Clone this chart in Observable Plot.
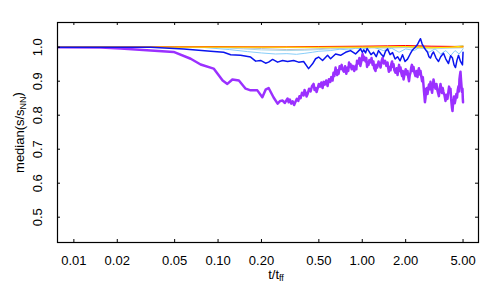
<!DOCTYPE html>
<html><head><meta charset="utf-8">
<script src="https://cdn.jsdelivr.net/npm/d3@7"></script>
<script src="https://cdn.jsdelivr.net/npm/@observablehq/plot@0.6"></script>
<style>body{margin:0;background:#fff} svg{font-family:"Liberation Sans",Arial,sans-serif}</style>
</head><body><div id="chart"></div>
<script>
// tick values
const xTicks = [0.01, 0.02, 0.05, 0.1, 0.2, 0.5, 1, 2, 5];
const yTicks = [0.5, 0.6, 0.7, 0.8, 0.9, 1.0];

// series: [t/t_ff, median(s/s_NN)]
const purple = [[0.0078,1.000],[0.0154,0.999],[0.0211,0.996],[0.0341,0.990],[0.0492,0.986],[0.0646,0.966],[0.0757,0.949],[0.0932,0.937],[0.1076,0.902],[0.116,0.892],[0.1257,0.905],[0.1395,0.902],[0.1553,0.878],[0.1682,0.873],[0.1872,0.873],[0.2028,0.853],[0.2137,0.875],[0.2242,0.880],[0.2428,0.852],[0.2588,0.834],[0.27,0.842],[0.2803,0.843],[0.29,0.836],[0.3036,0.849],[0.309,0.838],[0.315,0.846],[0.322,0.834],[0.3289,0.841],[0.337,0.830],[0.3450,0.840],[0.352,0.848],[0.36,0.842],[0.367,0.856],[0.3736,0.850],[0.382,0.866],[0.3920,0.858],[0.398,0.874],[0.405,0.866],[0.411,0.855],[0.4177,0.862],[0.428,0.878],[0.4382,0.870],[0.448,0.885],[0.4597,0.892],[0.467,0.874],[0.475,0.880],[0.482,0.868],[0.4899,0.878],[0.50,0.892],[0.51,0.884],[0.52,0.896],[0.5307,0.880],[0.54,0.898],[0.55,0.890],[0.562,0.902],[0.5747,0.886],[0.587,0.906],[0.60,0.898],[0.61,0.912],[0.6226,0.902],[0.632,0.925],[0.64,0.915],[0.6531,0.940],[0.66,0.928],[0.67,0.918],[0.678,0.932],[0.6851,0.922],[0.697,0.944],[0.71,0.936],[0.72,0.948],[0.7302,0.934],[0.745,0.928],[0.76,0.944],[0.775,0.922],[0.7908,0.940],[0.80,0.930],[0.81,0.955],[0.82,0.942],[0.8297,0.950],[0.845,0.935],[0.86,0.945],[0.88,0.930],[0.8986,0.945],[0.91,0.935],[0.92,0.960],[0.9427,0.952],[0.955,0.968],[0.97,0.945],[0.985,0.958],[1.005,0.980],[1.02,0.962],[1.03,0.972],[1.054,0.958],[1.067,0.968],[1.08,0.942],[1.093,0.955],[1.106,0.948],[1.12,0.962],[1.14,0.955],[1.16,0.968],[1.179,0.948],[1.195,0.958],[1.21,0.938],[1.236,0.930],[1.25,0.948],[1.27,0.940],[1.297,0.958],[1.32,0.948],[1.34,0.940],[1.36,0.958],[1.382,0.968],[1.41,0.952],[1.44,0.960],[1.47,0.945],[1.497,0.955],[1.515,0.938],[1.53,0.928],[1.55,0.942],[1.571,0.932],[1.59,0.950],[1.61,0.958],[1.63,0.942],[1.648,0.950],[1.67,0.932],[1.70,0.925],[1.73,0.938],[1.757,0.918],[1.78,0.935],[1.80,0.948],[1.82,0.930],[1.843,0.940],[1.87,0.922],[1.89,0.915],[1.91,0.930],[1.933,0.905],[1.96,0.918],[2.0,0.935],[2.03,0.920],[2.060,0.930],[2.085,0.912],[2.11,0.900],[2.135,0.918],[2.161,0.925],[2.185,0.940],[2.21,0.948],[2.24,0.930],[2.267,0.942],[2.30,0.925],[2.34,0.915],[2.38,0.930],[2.416,0.912],[2.44,0.928],[2.47,0.938],[2.50,0.920],[2.535,0.930],[2.57,0.912],[2.60,0.900],[2.63,0.912],[2.660,0.888],[2.68,0.870],[2.70,0.855],[2.72,0.838],[2.746,0.850],[2.77,0.878],[2.79,0.868],[2.81,0.880],[2.835,0.862],[2.87,0.878],[2.90,0.890],[2.94,0.876],[2.974,0.898],[3.01,0.880],[3.05,0.866],[3.09,0.888],[3.120,0.905],[3.17,0.888],[3.22,0.878],[3.27,0.892],[3.325,0.872],[3.36,0.865],[3.40,0.856],[3.44,0.875],[3.488,0.892],[3.53,0.878],[3.57,0.865],[3.61,0.880],[3.659,0.868],[3.72,0.858],[3.78,0.842],[3.84,0.860],[3.901,0.848],[3.95,0.866],[4.0,0.884],[4.05,0.868],[4.092,0.878],[4.13,0.850],[4.16,0.835],[4.19,0.822],[4.225,0.812],[4.27,0.838],[4.33,0.855],[4.38,0.835],[4.432,0.846],[4.49,0.862],[4.54,0.852],[4.6,0.875],[4.650,0.885],[4.69,0.870],[4.72,0.905],[4.76,0.918],[4.800,0.928],[4.84,0.905],[4.88,0.885],[4.92,0.868],[4.956,0.878],[4.98,0.850],[5.0,0.838]];

const blue = [[0.0078,1.000],[0.0341,1.000],[0.0578,0.995],[0.0888,0.988],[0.1093,0.985],[0.1223,0.978],[0.1434,0.976],[0.1682,0.971],[0.1823,0.959],[0.1973,0.961],[0.2137,0.953],[0.2242,0.956],[0.2390,0.964],[0.2588,0.956],[0.2803,0.961],[0.3036,0.958],[0.3342,0.961],[0.3619,0.956],[0.3920,0.958],[0.4244,0.937],[0.4523,0.951],[0.4746,0.966],[0.4980,0.971],[0.5307,0.961],[0.5747,0.976],[0.6030,0.966],[0.6531,0.980],[0.7075,0.976],[0.7660,0.985],[0.8297,0.990],[0.8986,0.980],[0.9733,0.995],[1.0,0.985],[1.025,0.992],[1.054,0.983],[1.08,0.996],[1.106,0.990],[1.15,0.978],[1.198,0.985],[1.25,0.972],[1.297,0.990],[1.35,0.980],[1.405,0.972],[1.45,0.988],[1.497,0.995],[1.56,0.978],[1.622,0.984],[1.69,0.965],[1.757,0.972],[1.83,0.960],[1.902,0.978],[1.98,0.958],[2.060,0.965],[2.15,0.980],[2.232,0.992],[2.33,1.000],[2.416,1.008],[2.48,1.018],[2.535,1.025],[2.60,1.010],[2.660,1.002],[2.75,0.992],[2.835,0.985],[2.9,0.972],[2.974,0.968],[3.05,0.980],[3.120,0.986],[3.25,0.968],[3.380,0.958],[3.5,0.972],[3.659,0.982],[3.8,0.965],[3.963,0.952],[4.1,0.975],[4.225,0.968],[4.33,0.948],[4.432,0.940],[4.54,0.962],[4.650,0.976],[4.8,0.958],[4.956,0.948],[5.0,0.985]];

const skyblue = [[0.0078,1.0],[0.08,0.999],[0.12,0.993],[0.16,0.987],[0.2,0.983],[0.25,0.980],[0.3,0.981],[0.35,0.979],[0.4,0.982],[0.45,0.985],[0.5,0.988],[0.6,0.990],[0.7,0.994],[0.8,0.992],[0.9,0.997],[1.0,0.995],[1.2,1.0],[1.4,0.99],[1.6,0.997],[1.8,0.985],[2.0,0.995],[2.3,0.99],[2.6,1.005],[2.9,0.985],[3.2,0.995],[3.5,0.98],[3.8,0.99],[4.1,0.975],[4.4,0.99],[4.7,0.98],[5.0,0.995]];

const lightblue = [[0.0078,1.0],[0.1,0.999],[0.15,0.995],[0.2,0.992],[0.3,0.990],[0.4,0.991],[0.5,0.993],[0.7,0.996],[1,0.998],[1.5,0.997],[2,0.999],[3,0.995],[4,0.997],[5,0.998]];

const gray = [[0.0078,1.0],[0.1,1.0],[0.2,0.996],[0.3,0.993],[0.4,0.994],[0.6,0.997],[1,0.999],[2,1.0],[3,0.998],[4,1.0],[5,1.005]];

const orange = [[0.0078,1.0],[0.05,1.001],[0.1,1.002],[0.2,1.0],[0.4,1.0],[1,1.001],[2,1.002],[3,1.0],[5,1.0]];

const red = [[0.0078,1.0],[0.3,1.001],[0.5,1.002],[1,1.003],[1.5,1.004],[2,1.005],[3,1.003],[5,1.002]];

const yellow = [[0.0078,1.0],[1,1.0],[2,1.002],[3,0.998],[4,1.0],[5,1.003]];

const series = [
  {data: purple, color: "#9b30ff", width: 2.5},
  {data: lightblue, color: "#add8e6", width: 1},
  {data: skyblue, color: "#87cefa", width: 1},
  {data: gray, color: "#c0c0c0", width: 1},
  {data: orange, color: "#ffa500", width: 1},
  {data: red, color: "#ff0000", width: 1},
  {data: yellow, color: "#ffee00", width: 1},
  {data: blue, color: "#0a14ee", width: 1.5}
];

const W = 500, H = 300, mL = 57, mR = 22, mT = 22, mB = 58;
const fw = W - mL - mR, fh = H - mT - mB, tk = 3;

const chart = Plot.plot({
  width: W, height: H,
  marginLeft: mL, marginRight: mR, marginTop: mT, marginBottom: mB,
  x: {type: "log", domain: [0.0077, 6.4], axis: null},
  y: {domain: [0.4256, 1.0726], axis: null},
  style: {fontFamily: "'Liberation Sans', Arial, sans-serif", fontSize: "13px", background: "#fff"},
  marks: [
    ...series.map(s => Plot.line(s.data, {x: d => d[0], y: d => d[1], stroke: s.color, strokeWidth: s.width, strokeLinejoin: "round"})),
    Plot.frame({stroke: "black", strokeWidth: 1.2}),
    Plot.tickX(xTicks, {x: d => d, insetTop: fh - tk, stroke: "black"}),
    Plot.tickX(xTicks, {x: d => d, insetBottom: fh - tk, stroke: "black"}),
    Plot.tickY(yTicks, {y: d => d, insetRight: fw - tk, stroke: "black"}),
    Plot.tickY(yTicks, {y: d => d, insetLeft: fw - tk, stroke: "black"}),
    Plot.text(xTicks, {x: d => d, text: d => d.toFixed(2), frameAnchor: "bottom", dy: 22, lineAnchor: "bottom", fontSize: 13, fill: "black"}),
    Plot.text(yTicks, {y: d => d, text: d => d.toFixed(1), frameAnchor: "left", dx: -16, rotate: -90, textAnchor: "middle", lineAnchor: "bottom", fontSize: 13, fill: "black"}),
    Plot.text(["t/t"], {frameAnchor: "bottom", dx: 8, dy: 36, lineAnchor: "bottom", fontSize: 13, fill: "black", className: "xlab"}),
    Plot.text(["median(s/s"], {frameAnchor: "left", dx: -34, rotate: -90, textAnchor: "middle", lineAnchor: "bottom", fontSize: 13, fill: "black", className: "ylab"})
  ]
});
document.getElementById("chart").appendChild(chart);

// subscripts as real text
d3.select(chart).selectAll(".xlab text").each(function() {
  const t = d3.select(this); t.text(null);
  t.append("tspan").text("t/t");
  t.append("tspan").attr("dy", "0.3em").attr("font-size", "9").text("ff");
});
d3.select(chart).selectAll(".ylab text").each(function() {
  const t = d3.select(this); t.text(null);
  t.append("tspan").text("median(s/s");
  t.append("tspan").attr("dy", "0.3em").attr("font-size", "9").text("NN");
  t.append("tspan").attr("dy", "-0.3em").text(")");
});
</script>
</body></html>
